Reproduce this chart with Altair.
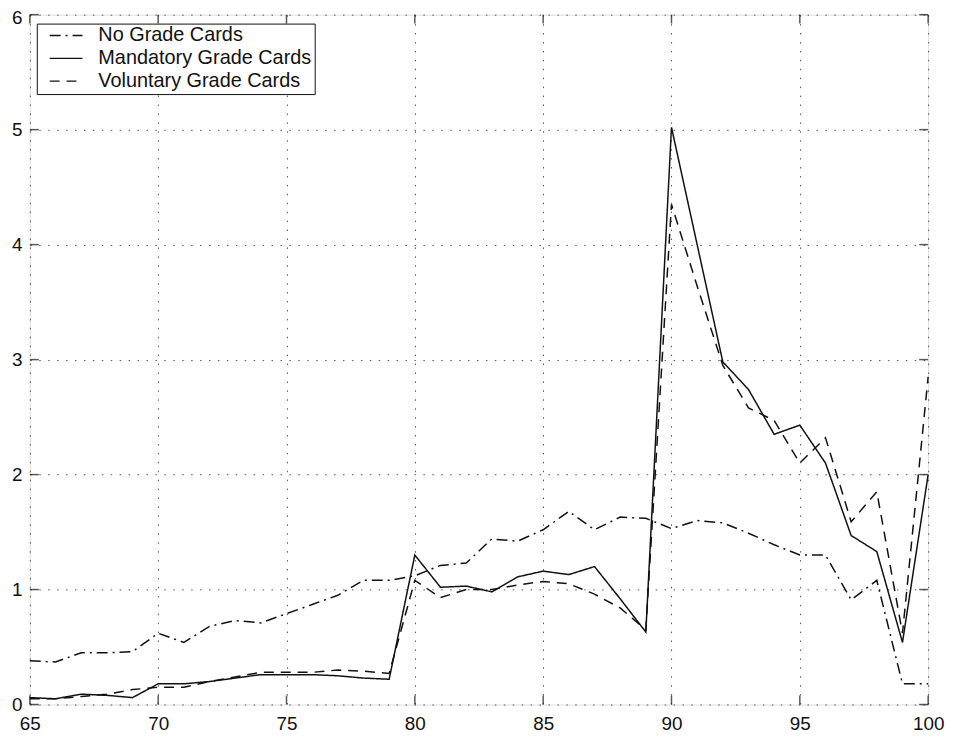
import altair as alt
import pandas as pd

years = list(range(65, 101))
no_grade = [0.38, 0.37, 0.45, 0.45, 0.46, 0.62, 0.54, 0.68, 0.73, 0.71,
            0.79, 0.87, 0.95, 1.08, 1.08, 1.12, 1.21, 1.23, 1.44, 1.42,
            1.52, 1.68, 1.52, 1.63, 1.62, 1.53, 1.60, 1.58, 1.49, 1.39,
            1.30, 1.30, 0.91, 1.08, 0.18, 0.18]
mandatory = [0.06, 0.05, 0.09, 0.08, 0.06, 0.18, 0.18, 0.20, 0.23, 0.26,
             0.26, 0.26, 0.25, 0.23, 0.22, 1.30, 1.02, 1.03, 0.98, 1.11,
             1.16, 1.13, 1.20, 0.92, 0.63, 5.02, 4.00, 2.98, 2.74, 2.35,
             2.43, 2.10, 1.47, 1.33, 0.54, 2.00]
voluntary = [0.05, 0.05, 0.07, 0.09, 0.13, 0.15, 0.15, 0.20, 0.24, 0.28,
             0.28, 0.28, 0.30, 0.29, 0.27, 1.08, 0.93, 1.00, 1.00, 1.04,
             1.07, 1.05, 0.96, 0.84, 0.65, 4.35, 3.64, 2.95, 2.58, 2.47,
             2.10, 2.32, 1.59, 1.85, 0.62, 2.85]
series_names = ["No Grade Cards", "Mandatory Grade Cards", "Voluntary Grade Cards"]
x_ticks = [65, 70, 75, 80, 85, 90, 95, 100]
y_ticks = [0, 1, 2, 3, 4, 5, 6]

rows = []
for name, vals in zip(series_names, [no_grade, mandatory, voluntary]):
    for yr, v in zip(years, vals):
        rows.append({"year": yr, "value": v, "series": name})
df = pd.DataFrame(rows)
xt = pd.DataFrame({"t": x_ticks})
yt = pd.DataFrame({"t": y_ticks})

W, H = 905, 695
FONT = "Liberation Sans"
INK = "#111111"
TICK = 9

xscale = alt.Scale(domain=[65, 100], nice=False, zero=False)
yscale = alt.Scale(domain=[0, 6], nice=False, zero=False)
xaxis = alt.Axis(values=x_ticks, grid=True, gridDash=[1.5, 7.5], gridColor="#555",
                 gridWidth=1, ticks=False, domain=False, labelPadding=10,
                 labelFontSize=19, labelFont=FONT, labelColor=INK, title=None,
                 format="d", labelFlush=False)
yaxis = alt.Axis(values=y_ticks, grid=True, gridDash=[1.5, 7.5], gridColor="#555",
                 gridWidth=1, ticks=False, domain=False, labelPadding=8,
                 labelFontSize=19, labelFont=FONT, labelColor=INK, title=None,
                 format="d", labelFlush=False,
                 labelOffset={"condition": {"test": "datum.value == 6", "value": 3},
                              "value": 0})

lines = alt.Chart(df).mark_line(color=INK, strokeWidth=1.5).encode(
    x=alt.X("year:Q", scale=xscale, axis=xaxis),
    y=alt.Y("value:Q", scale=yscale, axis=yaxis),
    strokeDash=alt.StrokeDash(
        "series:N",
        scale=alt.Scale(domain=series_names, range=[[11, 5, 2, 5], [1, 0], [10, 7]]),
        legend=alt.Legend(orient="none", legendX=7, legendY=9, title=None,
                          strokeColor=INK, fillColor="white", padding=3,
                          labelFontSize=20, labelFont=FONT, labelColor=INK,
                          labelLimit=500, symbolOffset=9,
                          symbolSize=1089, symbolStrokeWidth=1.4,
                          symbolStrokeColor=INK, symbolType="stroke",
                          labelOffset=15, rowPadding=3, clipHeight=18,
                          cornerRadius=0),
    ),
    detail="series:N",
)

tick_style = dict(color=INK, thickness=1.5, size=TICK)
bottom = alt.Chart(xt).mark_tick(orient="vertical", **tick_style).encode(
    x=alt.X("t:Q", scale=xscale, axis=xaxis), y=alt.value(H - TICK / 2))
top = alt.Chart(xt).mark_tick(orient="vertical", **tick_style).encode(
    x=alt.X("t:Q", scale=xscale, axis=xaxis), y=alt.value(TICK / 2))
left = alt.Chart(yt).mark_tick(orient="horizontal", **tick_style).encode(
    y=alt.Y("t:Q", scale=yscale, axis=yaxis), x=alt.value(TICK / 2))
right = alt.Chart(yt).mark_tick(orient="horizontal", **tick_style).encode(
    y=alt.Y("t:Q", scale=yscale, axis=yaxis), x=alt.value(W - TICK / 2))

chart = alt.layer(lines, bottom, top, left, right).properties(
    width=W, height=H,
    autosize=alt.AutoSizeParams(type="none"),
    padding={"left": 22, "top": 4, "right": 20, "bottom": 30},
).configure_view(stroke=INK, strokeWidth=1.5).configure(background="white")

chart.save("out.html", embed_options={"renderer": "svg", "actions": False})
